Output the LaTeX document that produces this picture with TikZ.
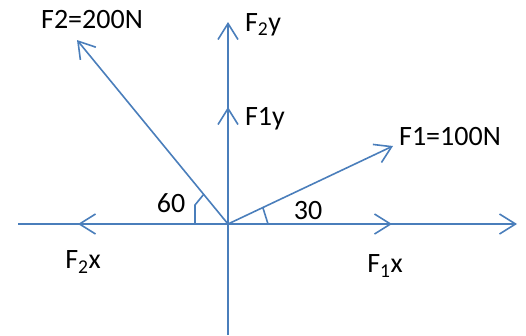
\documentclass[tikz,border=0pt]{standalone}
\usepackage{fontspec}
\setmainfont{Carlito}
\usepackage{xcolor}
\usetikzlibrary{arrows.meta}
\definecolor{forceblue}{HTML}{4A7EBB}
\tikzset{
  axisline/.style={draw=forceblue, line width=1.6pt},
  force/.style={draw=forceblue, line width=1.6pt, -{Straight Barb[length=16pt,width=20pt]}},
  anglemark/.style={draw=forceblue, line width=1.6pt},
  lbl/.style={inner sep=0pt, font=\fontsize{28}{32}\selectfont}
}

\begin{document}
\begin{tikzpicture}[x=1pt,y=-1pt]
\useasboundingbox (0,0) rectangle (526,335);

\coordinate (O) at (228,224);
\coordinate (xleft) at (18,224);
\coordinate (xright) at (517,224);
\coordinate (ybot) at (228,335);
\coordinate (ytop) at (228,22);
\coordinate (f1tip) at (393,146);
\coordinate (f2tip) at (77,40);
\coordinate (f1xtip) at (392,224);
\coordinate (f2xtip) at (78,224);
\coordinate (f1ytip) at (228,107);

% axes
\draw[axisline] (xleft) -- (O);
\draw[force] (O) -- (xright);
\draw[axisline] (ybot) -- (O);
\draw[force] (O) -- (ytop);

% forces and components
\draw[force] (O) -- (f1tip);
\draw[force] (O) -- (f2tip);
\draw[force] (O) -- (f1xtip);
\draw[force] (O) -- (f2xtip);
\draw[force] (O) -- (f1ytip);

% angle marks
\draw[anglemark] (195,224) -- (195,205) -- (204,194);
\draw[anglemark] (263,208) -- (268,224);

\node[lbl] (f2lbl) at (92,20) {F2=200N};
\node[lbl] (f1lbl) at (450,137) {F1=100N};
\node[lbl] (f2ylbl) at (263,25) {F\textsubscript{2}y};
\node[lbl] (f1ylbl) at (265,119) {F1y};
\node[lbl] (f2xlbl) at (83,262) {F\textsubscript{2}x};
\node[lbl] (f1xlbl) at (385,266) {F\textsubscript{1}x};
\node[lbl] (a60) at (171,203) {60};
\node[lbl] (a30) at (308,211) {30};
\end{tikzpicture}
\end{document}
